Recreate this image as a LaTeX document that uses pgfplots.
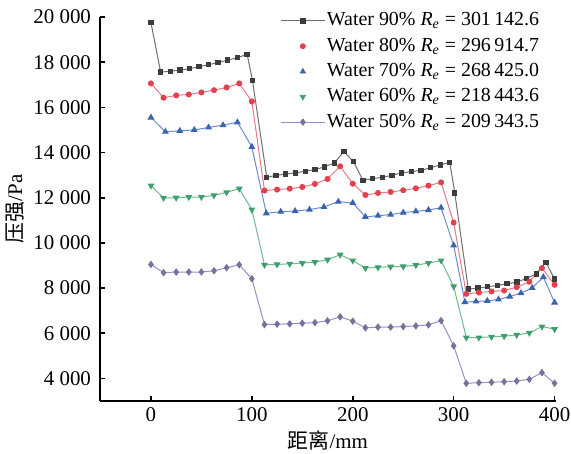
\documentclass[border=0pt]{standalone}
\usepackage{pgfplots}
\pgfplotsset{compat=1.18}
\usepackage{fontspec}
\setmainfont{Liberation Serif}
\newfontfamily\cjk{Noto Sans CJK SC}
\definecolor{cblk}{HTML}{3C3C3C}
\definecolor{cblkl}{HTML}{707070}
\definecolor{cred}{HTML}{E2414E}
\definecolor{credl}{HTML}{E57A85}
\definecolor{cblu}{HTML}{3A64AE}
\definecolor{cblul}{HTML}{6A8CCB}
\definecolor{cgrn}{HTML}{3E9E6C}
\definecolor{cgrnl}{HTML}{6DBA90}
\definecolor{cpur}{HTML}{7B6F9C}
\definecolor{cpurl}{HTML}{9C8CCB}
\begin{document}
\begin{tikzpicture}
\useasboundingbox (-50bp,-26.5bp) rectangle (235.5bp,200.5bp);
\begin{axis}[
  at={(0,0)}, anchor=south west,
  scale only axis, width=227.8bp, height=192bp,
  xmin=-50.5, xmax=401, ymin=3000, ymax=20000,
  axis x line*=bottom, axis y line*=left,
  axis line style={line width=1bp},
  tick style={line width=0.8bp, black},
  major tick length=2.5bp,
  xtick={0,100,200,300,400},
  ytick={4000,6000,8000,10000,12000,14000,16000,18000,20000},
  scaled y ticks=false,
  /pgf/number format/assume math mode=true,
  /pgf/number format/fixed,
  /pgf/number format/1000 sep={\hspace{0.25em}},
  tick label style={font=\fontsize{10.5}{12}\selectfont},
  yticklabel style={xshift=-1bp},
  label style={font=\fontsize{10.5}{12}\selectfont},
  xlabel={{\cjk 距离}/mm},
  ylabel={{\cjk 压强}/Pa},
  xlabel style={at={(axis description cs:0.5,-0.102)}, anchor=center},
  ylabel style={at={(axis description cs:-0.187,0.5)}, anchor=center},
  legend image code/.code={\draw[mark repeat=2,mark phase=2,#1] plot coordinates {(0bp,0bp) (11bp,0bp) (22bp,0bp)};},
  legend style={draw=none, fill=none, inner sep=0pt, at={(0.395,1.021)}, anchor=north west,
    row sep=1.05bp, font=\fontsize{10}{12}\selectfont,
    nodes={inner sep=0.8bp, text height=7.5bp, text depth=2.5bp}},
  legend cell align=left,
]
\addplot[forget plot, color=cblkl, line width=0.5bp, mark=square*, mark size=1.1bp, mark options={fill=cblk, draw=cblk, solid}] coordinates {
(0,19750)(9.6,17560)(19.2,17600)(28.8,17650)(38.2,17710)(47.6,17800)(57,17890)(66.5,17980)(76,18090)(85.7,18200)(95.3,18350)(100.6,17190)
(114.8,12900)(124,12990)(133.6,13050)(143.2,13100)(152.9,13170)(162.5,13245)(172,13365)(181.6,13540)(191.3,14040)(200.8,13590)
(210.1,12770)(219.7,12846)(229.3,12904)(238.9,12990)(248.5,13100)(258.1,13155)(267.7,13215)(277.3,13330)(286.8,13450)(296.1,13570)(301.1,12210)
(314.5,7954)(324,8000)(333.7,8056)(343.3,8115)(353,8190)(362.6,8265)(372.2,8425)(381.8,8630)(391.4,9130)(400,8400)};
\addplot[forget plot, color=credl, line width=0.5bp, mark=*, mark size=1.25bp, mark options={fill=cred, draw=cred, solid}] coordinates {
(0,17060)(12.5,16425)(25,16530)(37.5,16570)(50,16660)(62.5,16760)(75,16880)(87.5,17060)(100,16260)
(112.5,12315)(125,12360)(137.5,12400)(150,12475)(162.5,12610)(175,12830)(187.5,13390)(200,12620)
(212.5,12120)(225,12210)(237.5,12255)(250,12330)(262.5,12415)(275,12535)(287.5,12680)(300,10900)
(312.5,7745)(325,7800)(337.5,7850)(350,7890)(362.5,8040)(375,8280)(387.5,8885)(400,8145)};
\addplot[forget plot, color=cblul, line width=0.5bp, mark=triangle*, mark size=1.5bp, mark options={fill=cblu, draw=cblu, solid}] coordinates {
(0,15550)(14.3,14920)(28.6,14960)(42.9,15000)(57.1,15110)(71.4,15210)(85.7,15340)(100,14250)
(114.3,11310)(128.6,11380)(142.9,11410)(157.1,11470)(171.4,11590)(185.7,11825)(200,11770)
(212.5,11150)(225,11205)(237.5,11250)(250,11340)(262.5,11395)(275,11455)(287.5,11560)(300,9890)
(311.1,7380)(322.2,7405)(333.3,7435)(344.4,7495)(355.6,7625)(366.7,7775)(377.8,8010)(388.9,8485)(400,7360)};
\addplot[forget plot, color=cgrnl, line width=0.5bp, mark=triangle*, mark size=1.5bp, mark options={fill=cgrn, draw=cgrn, solid, rotate=180}] coordinates {
(0,12535)(12.5,11990)(25,12000)(37.5,12030)(50,12030)(62.5,12105)(75,12240)(87.5,12400)(100,11470)
(112.5,9030)(125,9045)(137.5,9075)(150,9105)(162.5,9150)(175,9255)(187.5,9475)(200,9220)
(212.5,8885)(225,8915)(237.5,8945)(250,8955)(262.5,9015)(275,9105)(287.5,9220)(300,8070)
(312.5,5810)(325,5810)(337.5,5840)(350,5870)(362.5,5925)(375,6015)(387.5,6295)(400,6180)};
\addplot[forget plot, color=cpurl, line width=0.5bp, mark=diamond*, mark size=1.5bp, mark options={fill=cpur, draw=cpur, solid}] coordinates {
(0,9045)(12.5,8680)(25,8710)(37.5,8710)(50,8710)(62.5,8765)(75,8900)(87.5,9030)(100,8410)
(112.5,6385)(125,6400)(137.5,6415)(150,6445)(162.5,6470)(175,6550)(187.5,6725)(200,6535)
(212.5,6240)(225,6270)(237.5,6270)(250,6295)(262.5,6325)(275,6370)(287.5,6560)(300,5440)
(312.5,3785)(325,3810)(337.5,3830)(350,3855)(362.5,3885)(375,3960)(387.5,4255)(400,3785)};
\addlegendimage{color=cblkl, line width=0.5bp, mark=square*, mark size=1.1bp, mark options={fill=cblk, draw=cblk, solid}}
\addlegendentry{Water 90\% \textit{R}\textsubscript{\textit{e}} = 301\,142.6}
\addlegendimage{only marks, mark=*, mark size=1.25bp, mark options={fill=cred, draw=cred, solid}}
\addlegendentry{Water 80\% \textit{R}\textsubscript{\textit{e}} = 296\,914.7}
\addlegendimage{only marks, mark=triangle*, mark size=1.5bp, mark options={fill=cblu, draw=cblu, solid}}
\addlegendentry{Water 70\% \textit{R}\textsubscript{\textit{e}} = 268\,425.0}
\addlegendimage{only marks, mark=triangle*, mark size=1.5bp, mark options={fill=cgrn, draw=cgrn, solid, rotate=180}}
\addlegendentry{Water 60\% \textit{R}\textsubscript{\textit{e}} = 218\,443.6}
\addlegendimage{color=cpurl, line width=0.5bp, mark=diamond*, mark size=1.5bp, mark options={fill=cpur, draw=cpur, solid}}
\addlegendentry{Water 50\% \textit{R}\textsubscript{\textit{e}} = 209\,343.5}
\end{axis}
\end{tikzpicture}
\end{document}
